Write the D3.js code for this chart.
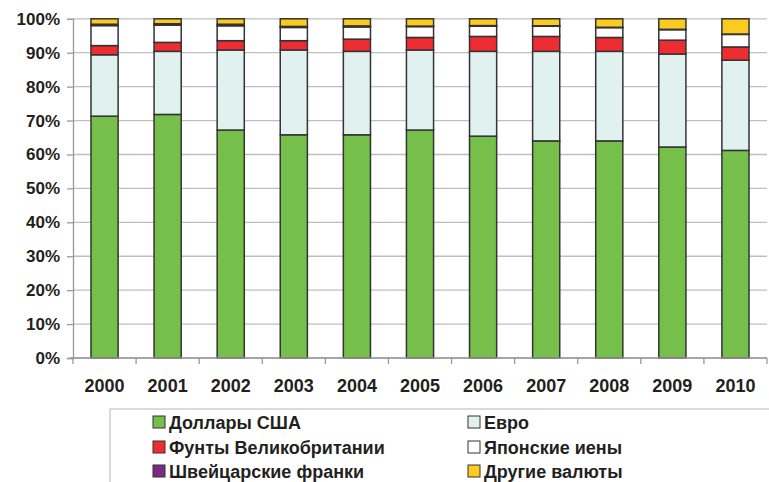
<!DOCTYPE html>
<html lang="ru">
  <head>
    <meta charset="UTF-8" />
    <title>Валютная структура резервов</title>
    <script src="https://cdn.jsdelivr.net/npm/d3@7"></script>
    <style>
      body {
        margin: 0;
        background: #fff;
        font-family: "Liberation Sans", Arial, sans-serif;
      }
      svg text {
        font-weight: bold;
        fill: #231f20;
      }
    </style>
  </head>
  <body>
    <script>
      // years on the x axis
      var years = ["2000", "2001", "2002", "2003", "2004", "2005", "2006", "2007", "2008", "2009", "2010"];

      // shares in percent
      var usd = [71.3, 71.8, 67.2, 65.8, 65.8, 67.2, 65.4, 64.0, 64.0, 62.2, 61.2];
      var eur = [18.1, 18.6, 23.6, 25.0, 24.6, 23.6, 25.0, 26.4, 26.4, 27.4, 26.6];
      var gbp = [2.7, 2.65, 2.75, 2.75, 3.6, 3.7, 4.4, 4.4, 4.1, 4.1, 3.9];
      var jpy = [5.9, 5.1, 4.4, 3.9, 3.6, 3.2, 3.0, 3.0, 2.9, 3.1, 3.7];
      var chf = [0.4, 0.4, 0.45, 0.3, 0.3, 0.15, 0.2, 0.15, 0.1, 0.1, 0.1];
      var other = [1.6, 1.45, 1.6, 2.25, 2.1, 2.15, 2.0, 2.05, 2.5, 3.1, 4.5];

      var seriesNames = ["Доллары США", "Евро", "Фунты Великобритании", "Японские иены", "Швейцарские франки", "Другие валюты"];
      var seriesColors = ["#76bf4a", "#e0f1f0", "#ee2d33", "#ffffff", "#7a2a82", "#fbcb1f"];
      var yTicks = [0, 10, 20, 30, 40, 50, 60, 70, 80, 90, 100];

      var series = [usd, eur, gbp, jpy, chf, other];

      var W = 769, H = 482;
      var plotL = 73, plotR = 767, plotT = 18.8, plotB = 358;

      var svg = d3.select("body").append("svg").attr("width", W).attr("height", H);

      var x = d3.scaleBand().domain(years).range([plotL, plotR]).paddingInner(0.57).paddingOuter(0.285);
      var y = d3.scaleLinear().domain([0, 100]).range([plotB, plotT]);

      // grid lines
      svg.append("g")
        .selectAll("line")
        .data(yTicks)
        .join("line")
        .attr("x1", plotL)
        .attr("x2", plotR)
        .attr("y1", function(d) { return y(d); })
        .attr("y2", function(d) { return y(d); })
        .attr("stroke", "#bfbfbf")
        .attr("stroke-width", 1.3);

      // y axis
      var yAxis = svg.append("g")
        .attr("transform", "translate(" + plotL + ",0)")
        .call(d3.axisLeft(y).tickValues(yTicks).tickSize(6).tickPadding(7).tickFormat(function(d) { return d + "%"; }));
      yAxis.select(".domain").attr("stroke", "#999").attr("stroke-width", 1.3);
      yAxis.selectAll(".tick line").attr("stroke", "#999").attr("stroke-width", 1.3);
      yAxis.selectAll("text").style("font-size", "17px").attr("fill", null);
      yAxis.attr("font-family", null).attr("font-size", null);

      // stacked data
      var rows = years.map(function(yr, i) {
        var o = { year: yr };
        seriesNames.forEach(function(n, k) { o[n] = series[k][i]; });
        return o;
      });
      var stack = d3.stack().keys(seriesNames)(rows);

      svg.append("g")
        .selectAll("g")
        .data(stack)
        .join("g")
        .attr("fill", function(d, k) { return seriesColors[k]; })
        .selectAll("rect")
        .data(function(d) { return d; })
        .join("rect")
        .attr("x", function(d) { return x(d.data.year); })
        .attr("width", x.bandwidth())
        .attr("y", function(d) { return y(d[1]); })
        .attr("height", function(d) { return y(d[0]) - y(d[1]); })
        .attr("stroke", "#333")
        .attr("stroke-width", 1.5);

      // x axis
      var step = x.step();
      var boundaries = d3.range(years.length + 1).map(function(i) { return plotL + i * step; });
      var xg = svg.append("g");
      xg.append("line")
        .attr("x1", plotL - 3).attr("x2", plotR)
        .attr("y1", plotB).attr("y2", plotB)
        .attr("stroke", "#999").attr("stroke-width", 1.3);
      xg.selectAll("line.t")
        .data(boundaries)
        .join("line")
        .attr("class", "t")
        .attr("x1", function(d) { return d; })
        .attr("x2", function(d) { return d; })
        .attr("y1", plotB)
        .attr("y2", plotB + 6)
        .attr("stroke", "#999").attr("stroke-width", 1.3);
      xg.selectAll("text")
        .data(years)
        .join("text")
        .attr("x", function(d) { return x(d) + x.bandwidth() / 2; })
        .attr("y", 392)
        .attr("text-anchor", "middle")
        .style("font-size", "18px")
        .text(function(d) { return d; });

      // legend
      var lg = svg.append("g");
      lg.append("rect")
        .attr("x", 110).attr("y", 409)
        .attr("width", 660).attr("height", 90)
        .attr("fill", "none")
        .attr("stroke", "#c8c8c8").attr("stroke-width", 1.3);

      var colX = [153, 468];
      var rowY = [422, 447, 471];
      var items = lg.selectAll("g")
        .data(seriesNames)
        .join("g")
        .attr("transform", function(d, i) {
          return "translate(" + colX[i % 2] + "," + rowY[Math.floor(i / 2)] + ")";
        });
      items.append("rect")
        .attr("x", 0).attr("y", -6)
        .attr("width", 12).attr("height", 12)
        .attr("fill", function(d, i) { return seriesColors[i]; })
        .attr("stroke", "#333").attr("stroke-width", 1);
      items.append("text")
        .attr("x", 16)
        .attr("y", 6.5)
        .style("font-size", "18px")
        .text(function(d) { return d; });
    </script>
  </body>
</html>
